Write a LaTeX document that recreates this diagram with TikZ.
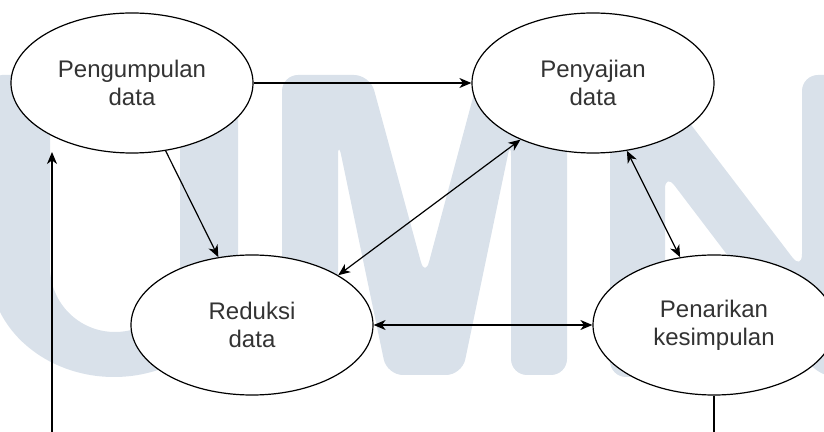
\documentclass[tikz,border=0pt]{standalone}
\usepackage{fontspec}
\setmainfont{Liberation Sans}
\usetikzlibrary{shapes.geometric,arrows.meta}
\definecolor{watermark}{RGB}{217,225,234}
\colorlet{stageText}{black!80}

\begin{document}
\begin{tikzpicture}[
  x=0.5pt,
  y=-0.5pt,
  letter/.style={
    fill=watermark,
  },
  stage/.style={
    ellipse,
    draw=black,
    line width=0.6pt,
    fill=white,
    minimum width=121pt,
    minimum height=70pt,
    inner sep=0pt,
    align=center,
    text=stageText,
    font=\fontsize{12}{13.8}\selectfont,
  },
  flow/.style={
    line width=0.6pt,
    -{Stealth[length=6pt,width=5pt,inset=1.8pt]},
  },
  twoway/.style={
    line width=0.6pt,
    {Stealth[length=6pt,width=5pt,inset=1.8pt]}-{Stealth[length=6pt,width=5pt,inset=1.8pt]},
  },
]
\useasboundingbox (0,0) rectangle (824,432);
\clip (0,0) rectangle (824,432);
\fill[letter] (-10,270) [rounded corners=6pt] -- (-10,75) -- (50,75) [sharp corners] -- (50,267)
  .. controls (50,303) and (79,332) .. (115,332)
  .. controls (151,332) and (180,303) .. (180,267)
  -- (180,75) -- (238,75) -- (238,270)
  .. controls (238,329) and (182,377) .. (114,377)
  .. controls (46,377) and (-10,329) .. (-10,270) -- cycle;
\fill[letter, rounded corners=8pt] (282,75) -- (370,75) -- (425,277) -- (479,75) -- (567,75)
  -- (567,375) -- (511,375) -- (511,140) -- (462,375) -- (387,375) -- (338,140)
  -- (338,375) -- (282,375) -- cycle;
\fill[letter, rounded corners=8pt] (610,75) -- (653,75) -- (802,270) -- (802,75) -- (857,75)
  -- (857,377) -- (820,377) -- (665,173) -- (665,377) -- (610,377) -- cycle;
\node[stage] (collect) at (132,83) {Pengumpulan\\data};
\node[stage] (display) at (593,83) {Penyajian\\data};
\node[stage] (reduce) at (252,325) {Reduksi\\data};
\node[stage] (conclude) at (714,325) {Penarikan\\kesimpulan};
\coordinate (back) at (52,152);
\draw[flow] (collect.east) -- (display.west);
\draw[flow] (collect) -- (reduce);
\draw[twoway] (display.218) -- (reduce.30);
\draw[twoway] (display) -- (conclude);
\draw[twoway] (reduce.east) -- (conclude.west);
\draw[flow] (conclude.south) -- ++(0,60) -| (back);
\end{tikzpicture}
\end{document}
